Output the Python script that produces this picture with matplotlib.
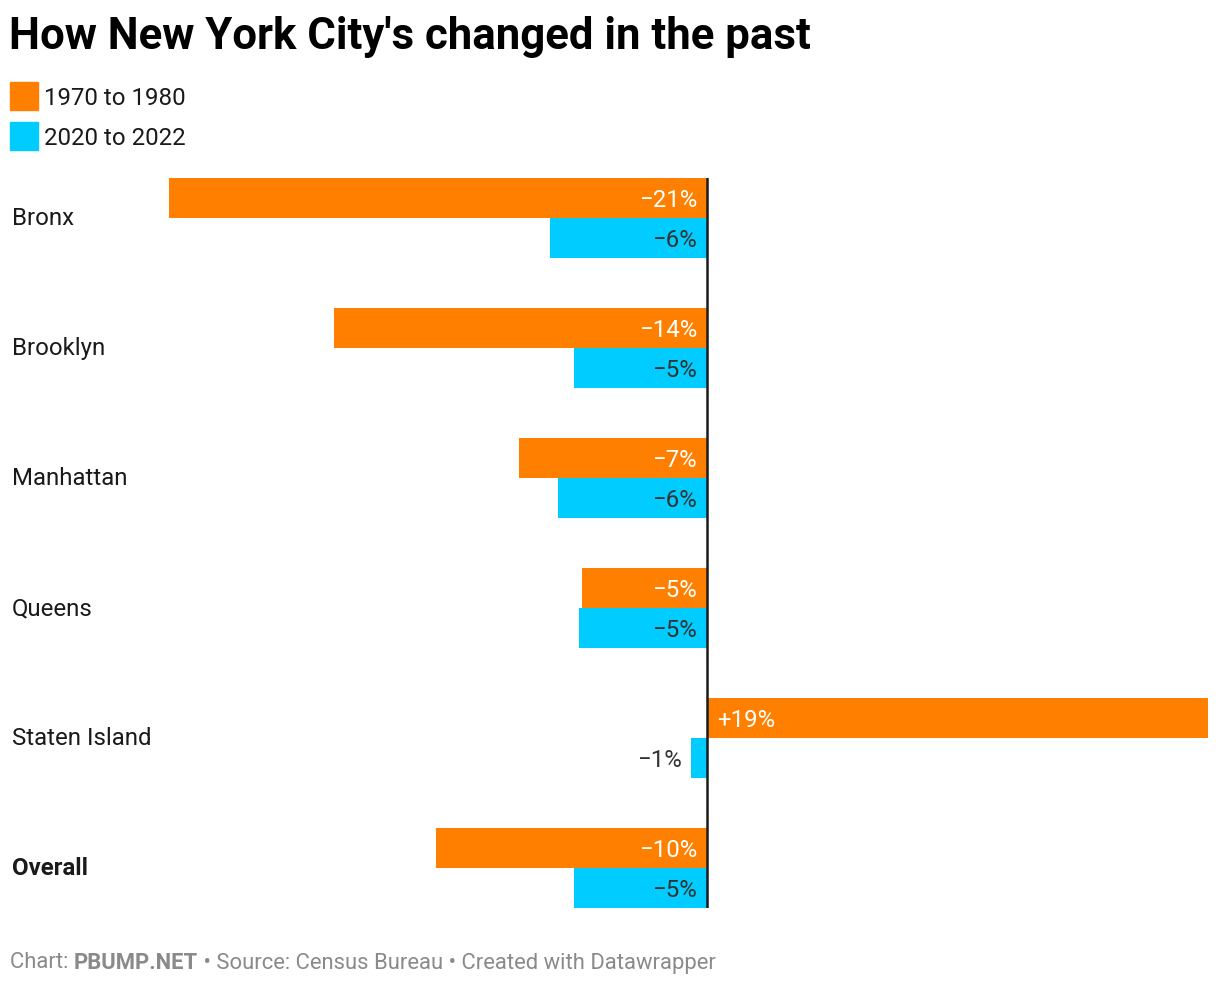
import matplotlib
matplotlib.use("Agg")
import matplotlib.pyplot as plt
from matplotlib.patches import Rectangle

plt.rcParams['font.family'] = ['Roboto', 'DejaVu Sans']

# data (percent change in population)
boroughs = ['Bronx', 'Brooklyn', 'Manhattan', 'Queens', 'Staten Island', 'Overall']
change_1970s = [-20.6, -14.3, -7.2, -4.8, 19.2, -10.4]
change_2020s = [-6.0, -5.1, -5.7, -4.9, -0.6, -5.1]
series_names = ['1970 to 1980', '2020 to 2022']
colors = ['#ff8000', '#00ccff']

W, H = 1220, 984
fig = plt.figure(figsize=(W / 100, H / 100), dpi=100)

def fx(px):
    return px / W

def fy(py):
    return 1 - py / H

# axes in pixel space: bars run from y=178 to y=908, zero at x=707
scale = 26.1  # px per percent
zero_px = 707
ax_left, ax_right = 160, 1215
ax = fig.add_axes([fx(ax_left), fy(908), (ax_right - ax_left) / W, 730 / H])
ax.set_xlim((ax_left - zero_px) / scale, (ax_right - zero_px) / scale)
ax.set_ylim(5 + 40 / 130, -40 / 130)
ax.axis('off')

bh = 40 / 130
ys = list(range(len(boroughs)))
ax.barh([y - bh / 2 for y in ys], change_1970s, height=bh, color=colors[0], linewidth=0)
ax.barh([y + bh / 2 for y in ys], change_2020s, height=bh, color=colors[1], linewidth=0)
ax.axvline(0, color='#1a1a1a', lw=1.8)

def fmt(v):
    r = round(v)
    return ('+' if r > 0 else '\u2212') + f'{abs(r)}%'

fs = 17.3
pad = 10 / scale
dy = 2.5 / 130  # small nudge so text sits centred like the original
for vals, off, inside_col in [(change_1970s, -bh / 2, 'white'), (change_2020s, bh / 2, '#333333')]:
    for y, v in zip(ys, vals):
        ty = y + off + dy
        if abs(v) < 2:
            # too small, label outside
            if v < 0:
                ax.text(v - pad, ty, fmt(v), ha='right', va='center', fontsize=fs, color='#333333')
            else:
                ax.text(v + pad, ty, fmt(v), ha='left', va='center', fontsize=fs, color='#333333')
        elif v < 0:
            ax.text(-pad, ty, fmt(v), ha='right', va='center', fontsize=fs, color=inside_col)
        else:
            ax.text(pad, ty, fmt(v), ha='left', va='center', fontsize=fs, color=inside_col)

# row labels
for i, name in enumerate(boroughs):
    fig.text(fx(12), fy(218.5 + 130 * i), name, ha='left', va='center', fontsize=fs,
             color='#1a1a1a', fontweight='bold' if name == 'Overall' else 'normal')

# title
fig.text(fx(9), fy(37), "How New York City's changed in the past", ha='left', va='center',
         fontsize=31.5, fontweight='bold', color='#000000')

# legend
for j, (lab, c) in enumerate(zip(series_names, colors)):
    top = 82 + 40 * j
    fig.patches.append(Rectangle((fx(10), fy(top + 28)), 28 / W, 28 / H, color=c,
                                 transform=fig.transFigure, figure=fig))
    fig.text(fx(44), fy(top + 16.5), lab, ha='left', va='center', fontsize=fs, color='#1a1a1a')

# footer
renderer = fig.canvas.get_renderer()
x = fx(10)
for part, wt in [('Chart: ', 'normal'), ('PBUMP.NET', 'bold'),
                 (' \u2022 Source: Census Bureau \u2022 Created with Datawrapper', 'normal')]:
    t = fig.text(x, fy(963), part, ha='left', va='center', fontsize=15.8, color='#8a8a8a', fontweight=wt)
    bb = t.get_window_extent(renderer)
    x += bb.width / W

fig.savefig('out.png', dpi=100)
